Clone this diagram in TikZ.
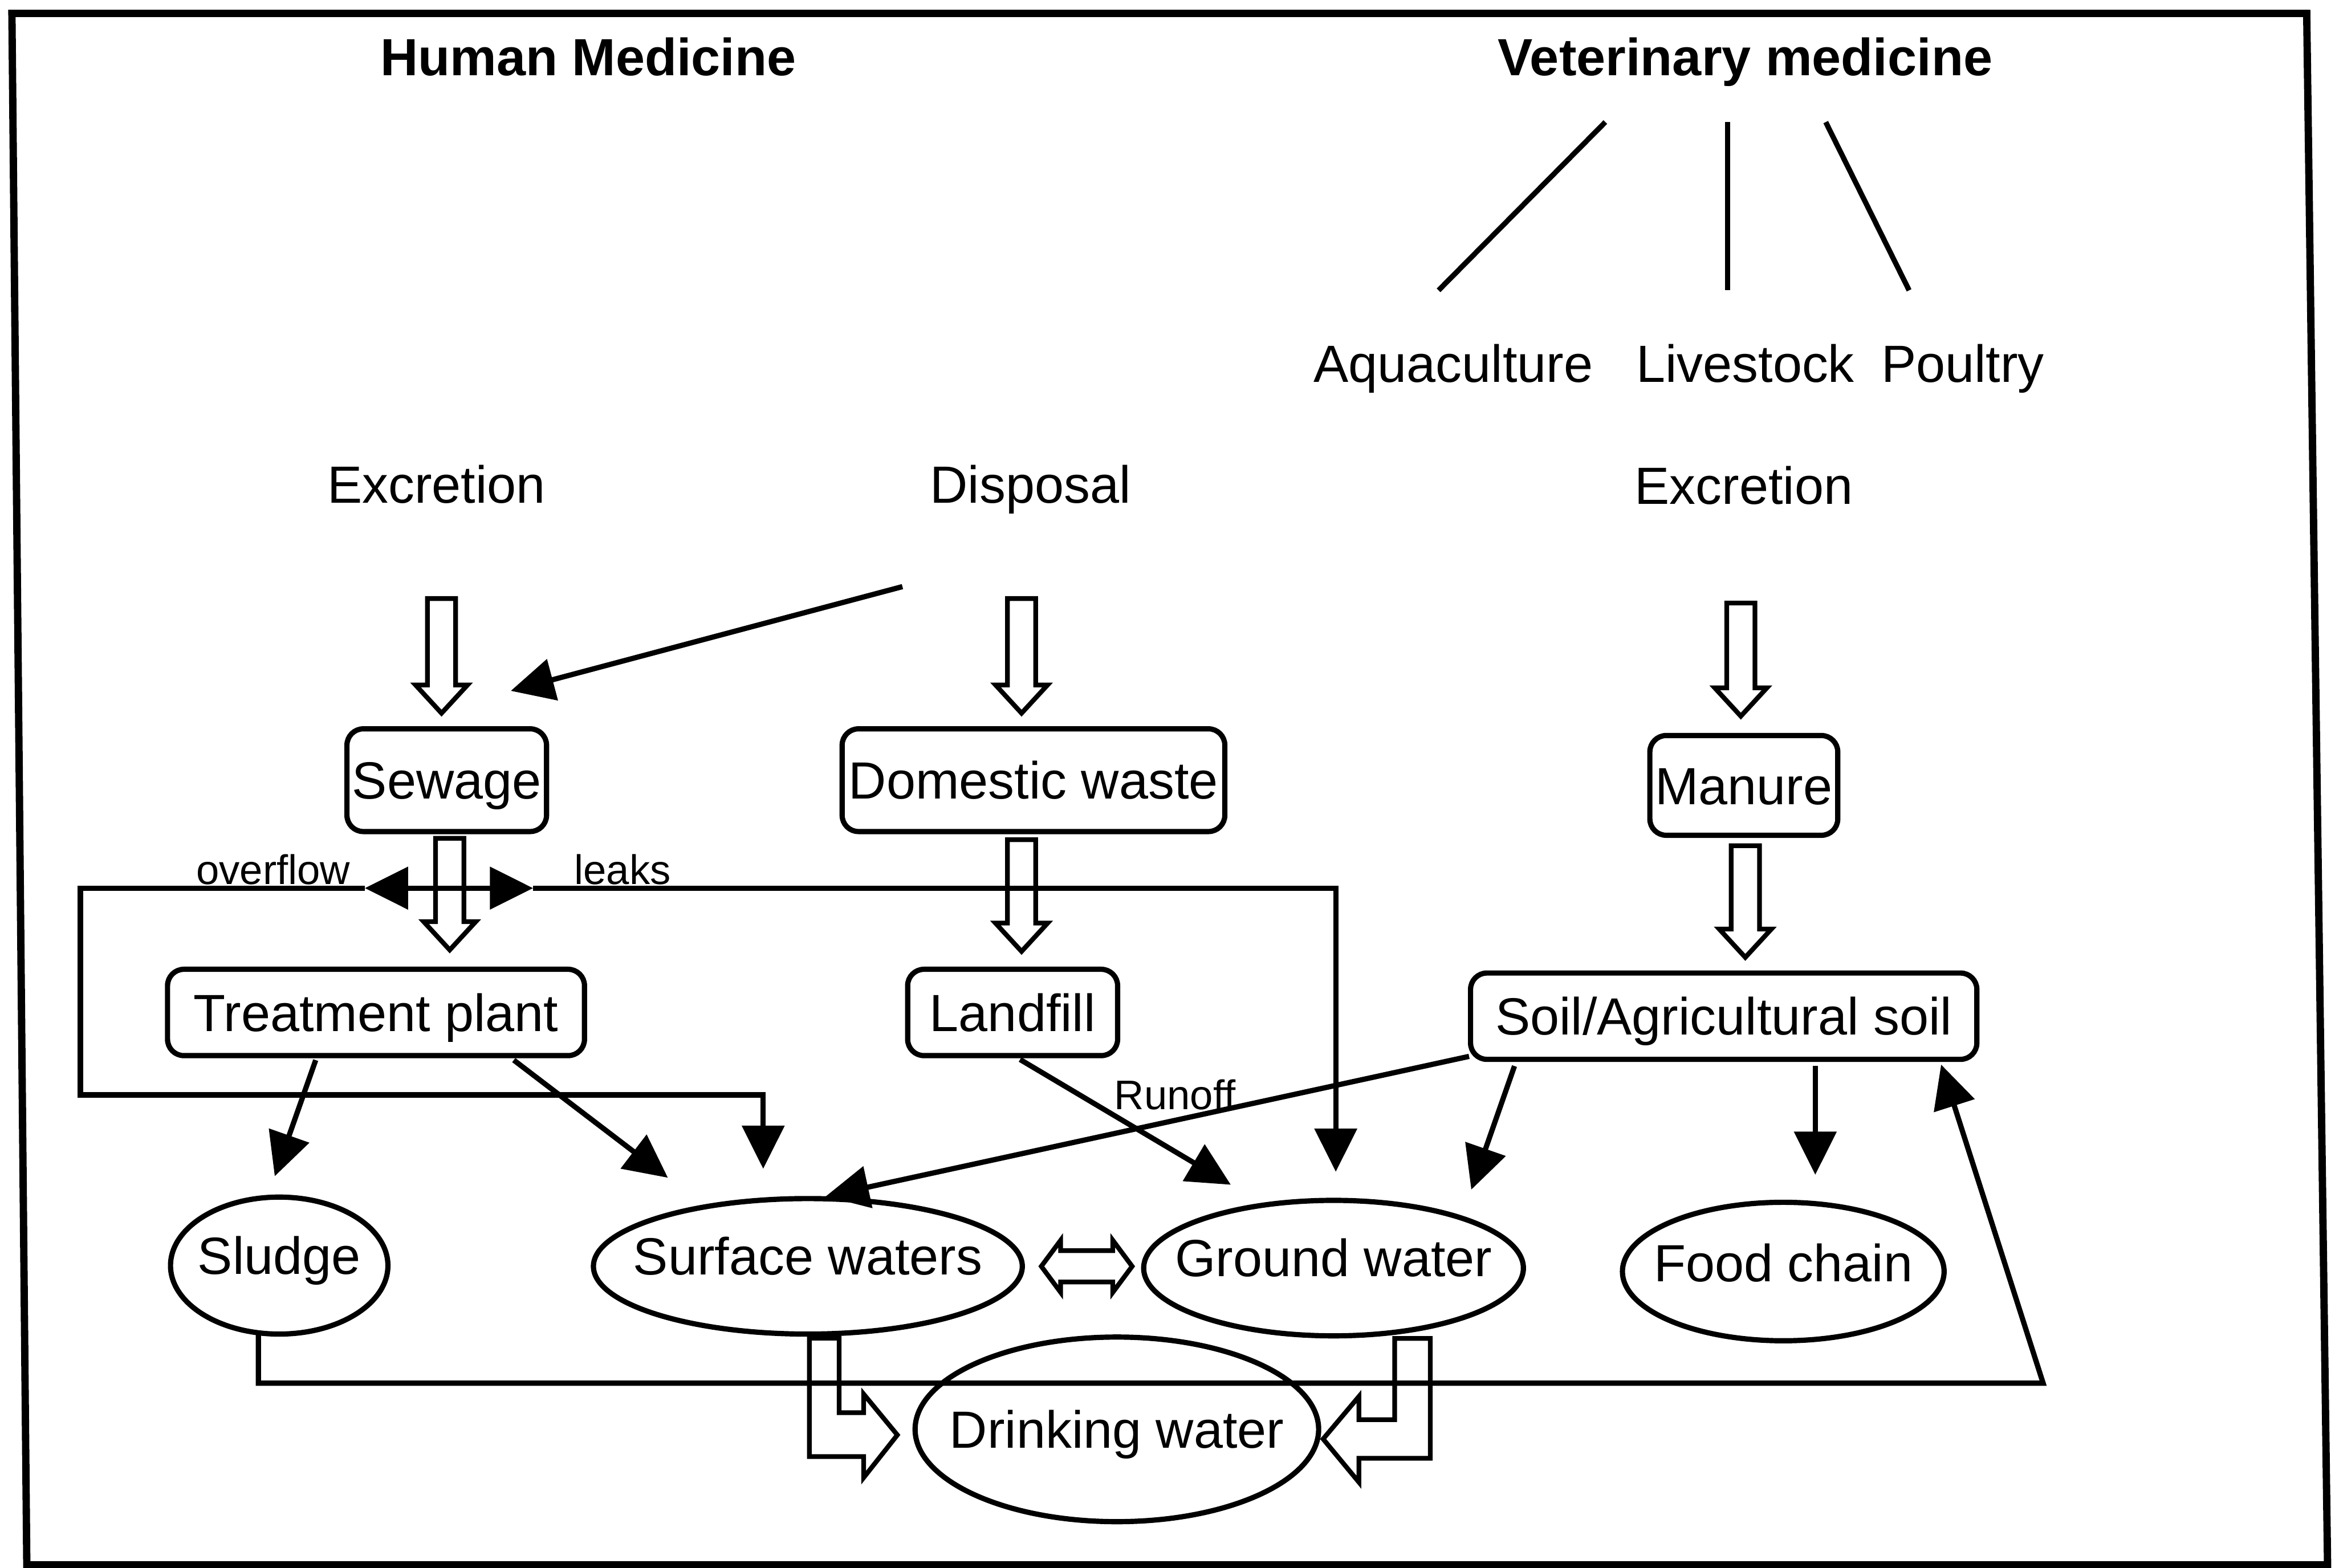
\documentclass[tikz,border=0pt]{standalone}
\usepackage{fontspec}
\setmainfont{Liberation Sans}
\usetikzlibrary{arrows.meta,shapes.geometric,calc}

% open block arrow pointing down from point #1, length #2
\newcommand{\hollowdown}[2]{%
  \draw[hollow] (#1) ++(-9.5,0) -- ++(0,{#2-19}) -- ++(-8,0) -- ++(17.5,19) -- ++(17.5,-19) -- ++(-8,0) -- ++(0,{19-#2}) -- cycle;}

\begin{document}
\begin{tikzpicture}[x=0.1mm, y=-0.1mm,
    every node/.style={font=\fontsize{10}{12}\selectfont, text height=7.2pt, text depth=0pt, inner sep=1pt},
    head/.style={font=\fontsize{10}{12}\selectfont\bfseries},
    small/.style={font=\fontsize{7.9}{9}\selectfont, text height=5.7pt},
    box/.style={draw, rounded corners=1.1mm, line width=1pt},
    oval/.style={draw, ellipse, line width=1pt, inner sep=0pt},
    con/.style={line width=1pt},
    arr/.style={line width=1pt, -{Triangle[length=2.9mm, width=2.8mm]}},
    hollow/.style={line width=0.9pt}]

	\useasboundingbox (0,0) rectangle (1568,1053);
	\draw[line width=1.4pt] (8,9) -- (1549,9) -- (1563,1051) -- (18,1051) -- cycle;

	% sources
	\node[head] (human) at (395,38) {Human Medicine};
	\node[head] (vet) at (1172,38) {Veterinary medicine};
	\node (aqua) at (976,244) {Aquaculture};
	\node (live) at (1172,244) {Livestock};
	\node (poul) at (1318,244) {Poultry};
	\node (exhum) at (293,325) {Excretion};
	\node (disp) at (692,325) {Disposal};
	\node (exvet) at (1171,326) {Excretion};

	\draw[con] ($(vet)+(-94,44)$) -- ($(aqua)+(-10,-49)$);
	\draw[con] ($(vet)+(-12,44)$) -- ($(live)+(-12,-49)$);
	\draw[con] ($(vet)+(54,44)$) -- ($(poul)+(-36,-49)$);

	% boxes
	\node[box, minimum width=13.2mm, minimum height=6.9mm] (sewage) at (300,524) {Sewage};
	\node[box, minimum width=25.7mm, minimum height=6.9mm] (domestic) at (694,524) {Domestic waste};
	\node[box, minimum width=12.1mm, minimum height=6.7mm] (manure) at (1171,527.5) {Manure};
	\node[box, minimum width=28mm, minimum height=5.8mm] (treat) at (252.5,680) {Treatment plant};
	\node[box, minimum width=14.1mm, minimum height=5.8mm] (landfill) at (680,680) {Landfill};
	\node[box, minimum width=34mm, minimum height=5.8mm] (soil) at (1157.5,682.5) {Soil/Agricultural soil};

	\hollowdown{$(exhum)+(3.5,77)$}{77}
	\hollowdown{$(disp)+(-6,77)$}{77}
	\hollowdown{$(exvet)+(-2,79)$}{76}
	\hollowdown{$(sewage)+(2,39)$}{75}
	\hollowdown{$(domestic)+(-8,40)$}{75}
	\hollowdown{$(manure)+(1,40.5)$}{75}

	\draw[arr] ($(disp)+(-86,69)$) -- ($(sewage)+(43,-60)$);

	% waters
	\node[oval, minimum width=14.6mm, minimum height=9.2mm, label={[yshift=2pt]center:Sludge}] (sludge) at (187.5,850) {};
	\node[oval, minimum width=28.8mm, minimum height=9.1mm, label={[yshift=2pt]center:Surface waters}] (surface) at (542.5,850.5) {};
	\node[oval, minimum width=25.5mm, minimum height=9.1mm, label={[yshift=2pt]center:Ground water}] (ground) at (895.5,851.7) {};
	\node[oval, minimum width=21.6mm, minimum height=9.3mm, label={[yshift=1.7pt]center:Food chain}] (food) at (1197.5,854) {};
	\node[oval, minimum width=27.1mm, minimum height=12.4mm, label={center:Drinking water}] (drink) at (750,960) {};

	% overflow and leaks
	\coordinate (split) at ($(sewage)+(2,72.5)$);
	\coordinate (ovtip) at ($(split)+(-57,0)$);
	\coordinate (lktip) at ($(split)+(56,0)$);
	\coordinate (ovleft) at (54,735.4);
	\draw[arr] (split) -- (ovtip);
	\draw[arr] (split) -- (lktip);
	\draw[arr] (ovtip) -| (ovleft) -| ($(surface)+(-30,-65.5)$);
	\draw[arr] (lktip) -| ($(ground)+(1.5,-64.7)$);
	\node[small] (overflow) at (183.5,584) {overflow};
	\node[small] (leaks) at (418,584) {leaks};

	\draw[arr] ($(treat)+(-40.5,32)$) -- ($(sludge)+(-3,-60)$);
	\draw[arr] ($(treat)+(92.5,32)$) -- ($(surface)+(-94,-59.5)$);
	\draw[arr] ($(landfill)+(5,31.6)$) -- ($(ground)+(-69,-56)$);
	\node[small] (runoff) at (789,735) {Runoff};
	\draw[arr] ($(soil)+(-171,27)$) -- ($(surface)+(12,-47)$);
	\draw[arr] ($(soil)+(-140.5,33.5)$) -- ($(ground)+(92.5,-52.7)$);
	\draw[arr] ($(soil)+(61.5,33.5)$) -- ($(food)+(21.5,-65)$);

	% sludge back onto the soil
	\coordinate (bend) at (1372,929);
	\draw[arr] ($(sludge)+(-14,46)$) |- (bend) -- ($(soil)+(146,32.5)$);

	% exchange and drinking water
	\draw[hollow] ($(surface.east)+(11,0)$) -- ++(13,-17.5) -- ++(0,7) -- ++(35,0) -- ++(0,-7) -- ++(13,17.5) -- ++(-13,17.5) -- ++(0,-7) -- ++(-35,0) -- ++(0,7) -- cycle;
	\draw[hollow] ($(surface.south)+(21,1)$) -- ++(0,50) -- ++(16.5,0) -- ++(0,-12.4) -- ++(22.6,27.4) -- ++(-22.6,28.6) -- ++(0,-14.1) -- ++(-36.5,0) -- ++(0,-79.5) -- cycle;
	\draw[hollow] ($(ground.south)+(41,0)$) -- ++(0,54.5) -- ++(-24,0) -- ++(0,-15.5) -- ++(-24,28.5) -- ++(24,29) -- ++(0,-16) -- ++(48,0) -- ++(0,-80.5) -- cycle;
\end{tikzpicture}
\end{document}
